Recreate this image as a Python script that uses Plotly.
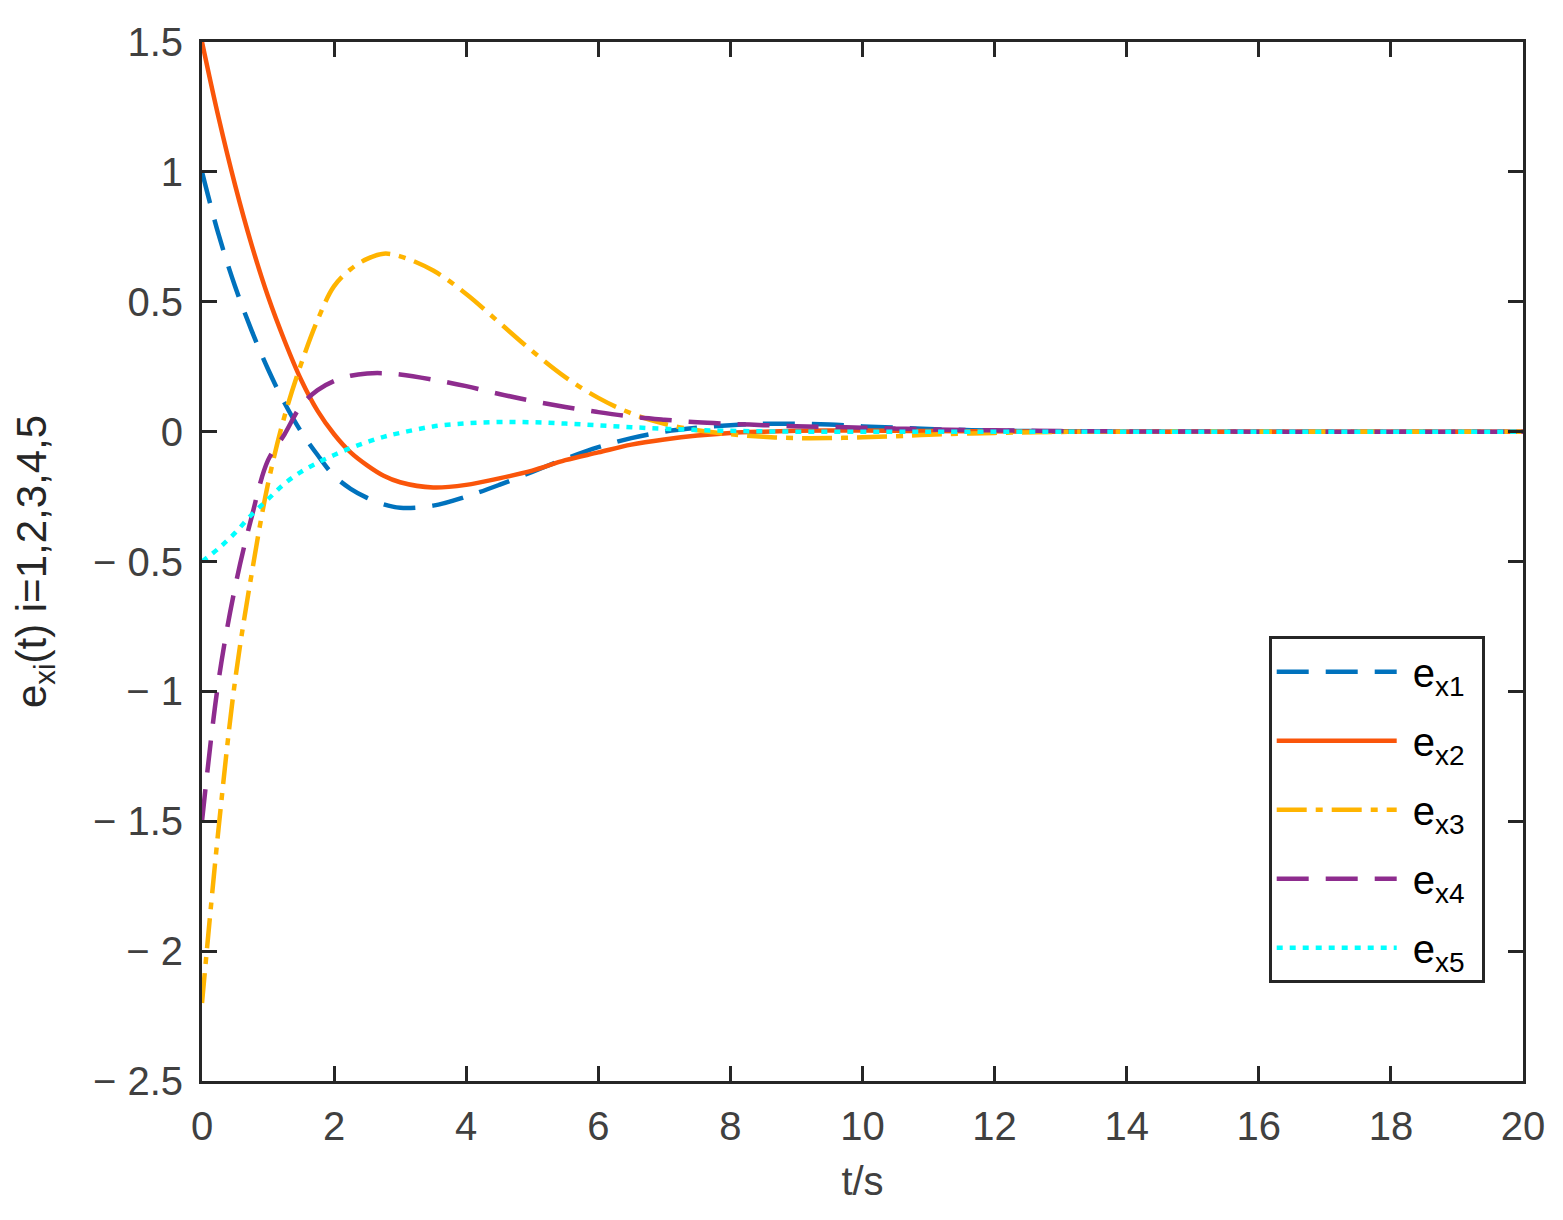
import plotly.graph_objects as go

# time samples (s)
t = [0, 0.25, 0.5, 0.75, 1.0, 1.25, 1.5, 1.75, 2.0, 2.25, 2.5, 2.75, 3.0, 3.5,
     4.0, 4.5, 5.0, 5.5, 6.0, 6.5, 7.0, 7.5, 8.0, 8.5, 9.0, 9.5, 10.0, 10.5,
     11.0, 12.0, 13.0, 14.0, 16.0, 18.0, 20.0]

e_x1 = [1.0, 0.76, 0.56, 0.39, 0.24, 0.11, 0.0, -0.09, -0.17, -0.22, -0.255, -0.28,
        -0.293, -0.285, -0.25, -0.205, -0.155, -0.105, -0.06, -0.025, 0.0, 0.015,
        0.025, 0.03, 0.03, 0.027, 0.02, 0.015, 0.01, 0.004, 0.001, 0.0, 0.0, 0.0, 0.0]
e_x2 = [1.5, 1.21, 0.95, 0.72, 0.52, 0.35, 0.2, 0.08, -0.01, -0.08, -0.13, -0.17,
        -0.195, -0.215, -0.205, -0.18, -0.15, -0.11, -0.08, -0.05, -0.03, -0.015,
        -0.005, 0.0, 0.003, 0.004, 0.004, 0.003, 0.002, 0.001, 0.0, 0.0, 0.0, 0.0, 0.0]
e_x3 = [-2.2, -1.53, -0.96, -0.55, -0.2, 0.06, 0.26, 0.43, 0.56, 0.625, 0.665, 0.685,
        0.675, 0.62, 0.53, 0.42, 0.31, 0.21, 0.13, 0.07, 0.03, 0.005, -0.01, -0.02,
        -0.025, -0.025, -0.022, -0.018, -0.012, -0.005, -0.001, 0.0, 0.0, 0.0, 0.0]
e_x4 = [-1.5, -0.96, -0.6, -0.33, -0.11, -0.01, 0.1, 0.16, 0.195, 0.215, 0.224, 0.225,
        0.22, 0.2, 0.175, 0.145, 0.118, 0.095, 0.075, 0.058, 0.046, 0.036, 0.03, 0.025,
        0.021, 0.018, 0.015, 0.012, 0.009, 0.005, 0.002, 0.001, 0.0, 0.0, 0.0]
e_x5 = [-0.5, -0.45, -0.39, -0.32, -0.26, -0.2, -0.155, -0.12, -0.09, -0.063, -0.04,
        -0.02, -0.005, 0.02, 0.032, 0.037, 0.036, 0.031, 0.024, 0.017, 0.011, 0.006,
        0.003, 0.001, 0.0, 0.0, 0.0, 0.0, 0.0, 0.0, 0.0, 0.0, 0.0, 0.0, 0.0]

names = ['e<sub>x1</sub>', 'e<sub>x2</sub>', 'e<sub>x3</sub>', 'e<sub>x4</sub>', 'e<sub>x5</sub>']
colors = ['#0072BD', '#FA550A', '#FFB400', '#8E2C8E', '#00FFFF']
dashes = ['32px,17px', 'solid', '30px,9px,7px,9px', '32px,17px', '6px,7px']

y_ticks = [1.5, 1, 0.5, 0, -0.5, -1, -1.5, -2, -2.5]
y_ticktext = ['1.5', '1', '0.5', '0', '\u2212 0.5', '\u2212 1', '\u2212 1.5', '\u2212 2', '\u2212 2.5']
x_ticks = list(range(0, 21, 2))

FONT = 'Liberation Sans, Arial'

fig = go.Figure()
for ys, name, c, d in zip([e_x1, e_x2, e_x3, e_x4, e_x5], names, colors, dashes):
    # nbsp padding gives the gap between legend line and label, and the right margin
    fig.add_trace(go.Scatter(x=t, y=ys, mode='lines', name='\u00a0' + name + '\u00a0',
                             legendgroup=name,
                             line=dict(color=c, width=4.5, dash=d, shape='spline')))

axis_common = dict(showline=True, linecolor='#262626', linewidth=3, mirror='ticks',
                   ticks='inside', ticklen=15, tickwidth=3, tickcolor='#262626',
                   showgrid=False, zeroline=False,
                   tickfont=dict(family=FONT, size=40, color='#404040'))

fig.update_xaxes(range=[0, 20], tickvals=x_ticks, ticklabelstandoff=8,
                 title=dict(text='t/s', standoff=20,
                            font=dict(family=FONT, size=40, color='#404040')),
                 **axis_common)
fig.update_yaxes(range=[-2.5, 1.5], tickvals=y_ticks, ticktext=y_ticktext,
                 ticklabelstandoff=8,
                 title=dict(text='e<sub>xi</sub>(t) i=1,2,3,4,5', standoff=42,
                            font=dict(family=FONT, size=42, color='#262626')),
                 **axis_common)

fig.update_layout(
    width=1563, height=1220,
    margin=dict(l=194, r=48, t=29, b=147),
    paper_bgcolor='white', plot_bgcolor='white',
    legend=dict(x=0.8075, y=0.428, xanchor='left', yanchor='top',
                bordercolor='#262626', borderwidth=3, bgcolor='white',
                font=dict(family=FONT, size=40, color='black'),
                itemwidth=120, tracegroupgap=14),
)

fig.write_html("out.html")
